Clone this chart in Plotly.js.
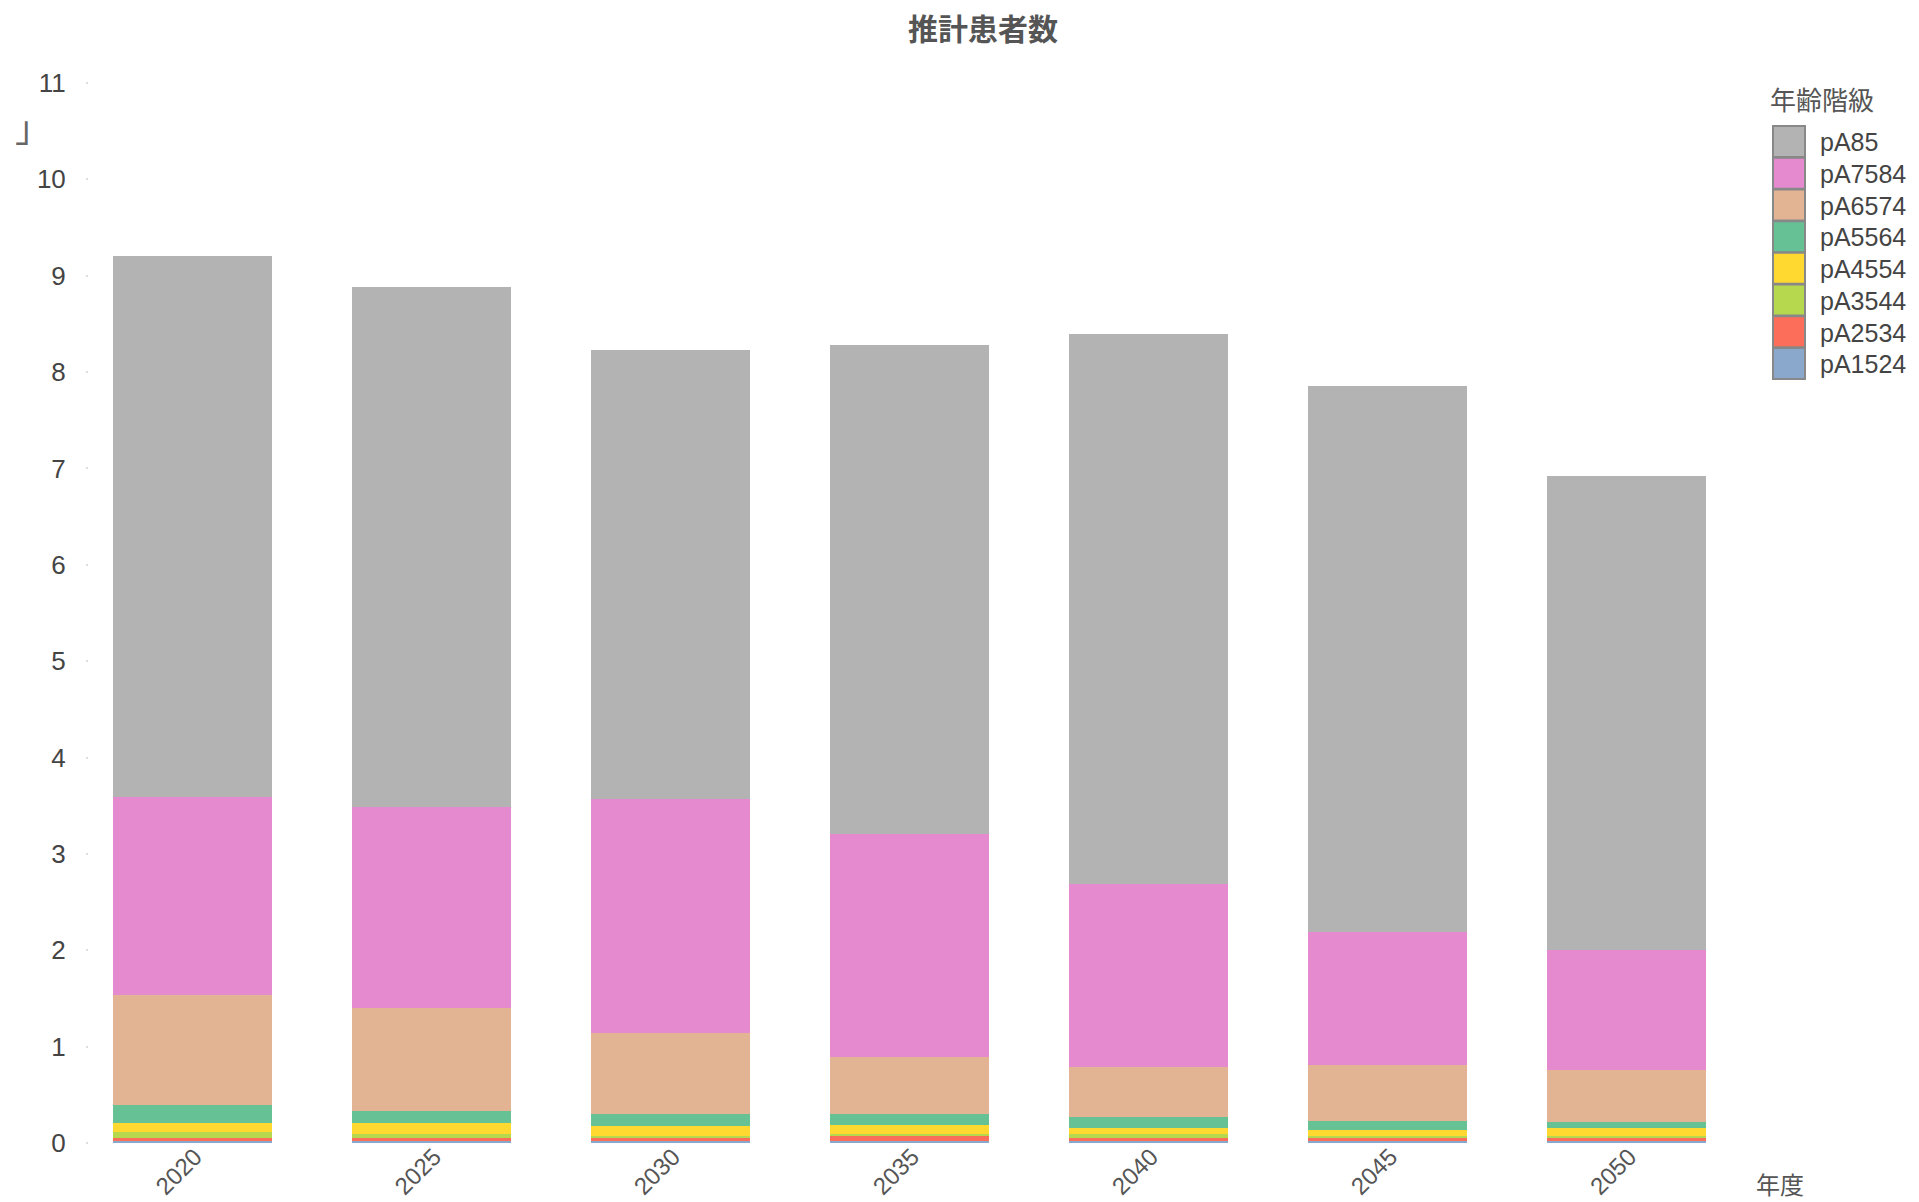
<!DOCTYPE html>
<html>
<head>
<meta charset="utf-8">
<script src="https://cdn.plot.ly/plotly-3.0.1.min.js"></script>
<style>html,body{margin:0;padding:0;background:#fff;}#chart{width:1919px;height:1202px;}</style>
</head>
<body>
<div id="chart"></div>
<script>
// ---- data ----
const years = ['2020', '2025', '2030', '2035', '2040', '2045', '2050'];
const seriesNames = ['pA1524', 'pA2534', 'pA3544', 'pA4554', 'pA5564', 'pA6574', 'pA7584', 'pA85'];
const pA1524 = [0.025, 0.025, 0.025, 0.025, 0.025, 0.025, 0.025];
const pA2534 = [0.025, 0.022, 0.025, 0.050, 0.025, 0.024, 0.027];
const pA3544 = [0.062, 0.048, 0.027, 0.016, 0.045, 0.028, 0.017];
const pA4554 = [0.094, 0.115, 0.104, 0.094, 0.060, 0.062, 0.087];
const pA5564 = [0.189, 0.120, 0.118, 0.113, 0.120, 0.093, 0.062];
const pA6574 = [1.14, 1.07, 0.84, 0.59, 0.51, 0.58, 0.54];
const pA7584 = [2.06, 2.09, 2.43, 2.32, 1.90, 1.38, 1.25];
const pA85   = [5.61, 5.39, 4.66, 5.07, 5.71, 5.66, 4.915];
const seriesValues = [pA1524, pA2534, pA3544, pA4554, pA5564, pA6574, pA7584, pA85];
const seriesColors = ['#8aa8cc', '#fd6e5a', '#b6d84e', '#ffd92f', '#66c295', '#e3b494', '#e68ad0', '#b3b3b3'];
const chartTitle = '推計患者数';
const legendTitle = '年齢階級';
const xTitle = '年度';
const yTickVals = [0, 1, 2, 3, 4, 5, 6, 7, 8, 9, 10, 11];

const FONT = 'Liberation Sans, Arial, "Noto Sans CJK JP", sans-serif';
const CJK = '"Noto Sans CJK JP", "Liberation Sans", sans-serif';

const traces = seriesNames.map((n, i) => ({
  type: 'bar',
  name: n,
  x: years,
  y: seriesValues[i],
  marker: {color: seriesColors[i], line: {width: 0}},
  hoverinfo: 'x+y+name'
}));

const W = 1919, H = 1202;
const L = 89, R = 1746, T = 83, B = 1143;

const layout = {
  width: W, height: H,
  margin: {l: L, r: W - R, t: T, b: H - B, pad: 0},
  paper_bgcolor: '#ffffff',
  plot_bgcolor: '#ffffff',
  barmode: 'stack',
  bargap: 0.335,
  showlegend: true,
  font: {family: FONT, color: '#555555', size: 24},
  title: {
    text: '<b>' + chartTitle + '</b>',
    font: {family: CJK, size: 30, color: '#555555'},
    xref: 'container', yref: 'container',
    x: 983 / W, y: 1 - 29 / H, xanchor: 'center', yanchor: 'middle'
  },
  xaxis: {
    type: 'category',
    range: [-0.431, 6.5],
    showgrid: false, zeroline: false, showline: false,
    ticks: '', tickangle: -45,
    tickfont: {family: FONT, size: 24, color: '#555555'},
    fixedrange: true
  },
  yaxis: {
    range: [0, 11],
    tickvals: yTickVals,
    showgrid: false, zeroline: false, showline: false,
    ticks: 'outside', ticklen: 2, tickcolor: '#dddddd', tickwidth: 2,
    ticklabelstandoff: 15,
    tickfont: {family: FONT, size: 26, color: '#444444'},
    fixedrange: true
  },
  legend: {
    title: {text: legendTitle, font: {family: CJK, size: 26, color: '#555555'}},
    traceorder: 'reversed',
    xref: 'container', yref: 'container',
    x: 1758 / W, y: 1 - 76 / H, xanchor: 'left', yanchor: 'top',
    font: {family: FONT, size: 25, color: '#444444'},
    bgcolor: 'rgba(0,0,0,0)',
    itemwidth: 52,
    tracegroupgap: 0
  },
  annotations: [
    {
      text: xTitle, xref: 'paper', yref: 'paper',
      x: (1780 - L) / (R - L), y: (B - 1183) / (B - T),
      xanchor: 'center', yanchor: 'middle', showarrow: false,
      font: {family: CJK, size: 24, color: '#555555'}
    },
    {
      text: '」', xref: 'paper', yref: 'paper',
      x: (33 - L) / (R - L), y: (B - 126) / (B - T),
      xanchor: 'center', yanchor: 'middle', showarrow: false,
      font: {family: CJK, size: 36, color: '#666666'}
    }
  ]
};

Plotly.newPlot('chart', traces, layout, {staticPlot: true, displayModeBar: false}).then(gd => {
  // match the reference legend: bigger swatches, tighter row pitch
  const items = Array.from(document.querySelectorAll('.legend g.traces'));
  const parse = t => {
    const m = /translate\(\s*([-\d.]+)[ ,]+([-\d.]+)\s*\)/.exec(t || '');
    return m ? [parseFloat(m[1]), parseFloat(m[2])] : [0, 0];
  };
  if (items.length) {
    const first = parse(items[0].getAttribute('transform'));
    items.forEach((g, i) => {
      const p = parse(g.getAttribute('transform'));
      g.setAttribute('transform', 'translate(' + p[0] + ',' + (first[1] + 9 + i * 31.7) + ')');
    });
  }
  // nudge legend title to the right
  document.querySelectorAll('.legend .legendtitletext').forEach(t => {
    const x = parseFloat(t.getAttribute('x') || '0');
    t.setAttribute('x', x + 10);
  });
  document.querySelectorAll('.legend .legendpoints path').forEach(p => {
    p.setAttribute('d', 'M16,15.5H-16V-15.5H16Z');
    p.style.stroke = '#888888';
    p.style.strokeWidth = '2px';
  });
  // pull the rotated year labels slightly up, closer to the bars as in the reference
  document.querySelectorAll('.xaxislayer-above').forEach(g => {
    g.setAttribute('transform', 'translate(3,-6)');
  });
});
</script>
</body>
</html>
